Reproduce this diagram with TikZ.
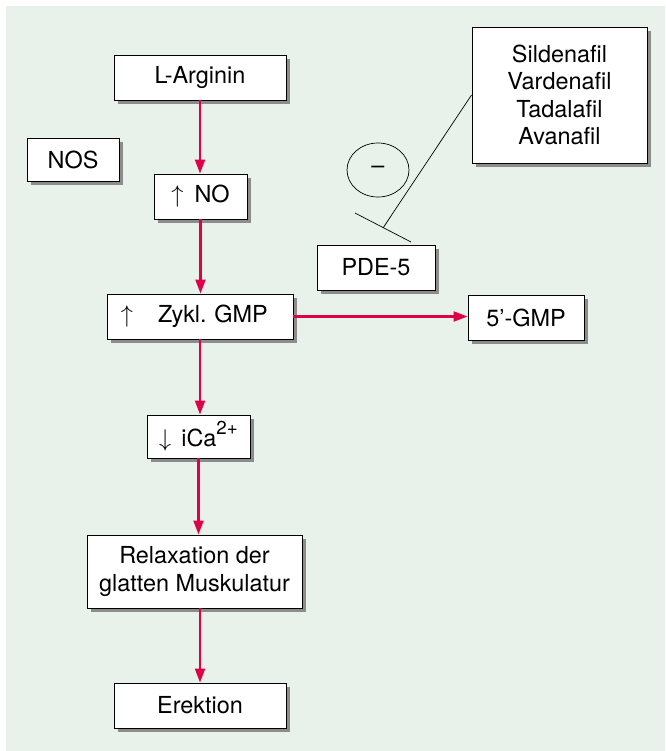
\documentclass[tikz,border=0pt]{standalone}
\usepackage{fontspec}
\setmainfont{TeX Gyre Heros}
\usetikzlibrary{arrows.meta,shadows,shapes.geometric}

\definecolor{panelgreen}{RGB}{233,242,234}
\definecolor{flowred}{RGB}{222,0,72}

\tikzset{
  box/.style={draw, line width=0.8pt, fill=white, minimum height=1.35cm,
    align=center, inner sep=2pt,
    drop shadow={shadow xshift=0.11cm, shadow yshift=-0.11cm, fill=black!45, opacity=1}},
  flow/.style={draw=flowred, line width=1.8pt, -{Triangle[length=0.42cm,width=0.3cm]}},
  block/.style={line width=0.6pt}
}

\begin{document}
\begin{tikzpicture}[x=0.03cm, y=-0.03cm, font=\fontsize{20}{23.5}\selectfont\frenchspacing]
    % panel
    \useasboundingbox (0,0) rectangle (665,751);
    \fill[panelgreen] (6,6) rectangle (665,751);

    % main cascade
    \node[box, minimum width=5.16cm] (arginin) at (200,77.5) {L-Arginin};
    \node[box, minimum width=2.76cm, minimum height=1.29cm] (nos) at (73,159.5) {NOS};
    \node[box, minimum width=2.79cm] (no) at (200.5,196.5) {$\uparrow$\hspace{0.33cm}NO};
    \node[box, text width=4.74cm, inner xsep=0.42cm, align=left] (cgmp) at (200,316.5)
        {$\uparrow$\hspace{0.75cm}Zykl. GMP};
    \node[box, minimum width=3.09cm, minimum height=1.29cm] (ica) at (198.5,436.5)
        {$\downarrow$\hspace{0.3cm}iCa\raisebox{0.5em}{\fontsize{16}{16}\selectfont 2+}};
    \node[box, minimum width=6.45cm, minimum height=2.19cm] (relax) at (194.5,571.5)
        {Relaxation der\\glatten Muskulatur};
    \node[box, minimum width=5.16cm] (erektion) at (200,705.5) {Erektion};

    % degradation branch
    \node[box, minimum width=3.48cm] (gmp5) at (526,317.5) {5’-GMP};
    \node[box, minimum width=3.54cm] (pde) at (376,267.5) {PDE-5};

    % inhibitors
    \node[box, minimum width=5.25cm, minimum height=4.08cm] (drugs) at (559.5,95)
        {Sildenafil\\Vardenafil\\Tadalafil\\Avanafil};
    \node[draw, ellipse, block, minimum width=1.86cm, minimum height=1.62cm] (minus) at (378,170) {–};

    % arrows
    \draw[flow] (arginin.south) -- (arginin.south |- no.north);
    \draw[flow] (no.south) -- (no.south |- cgmp.north);
    \draw[flow] (cgmp.south) -- (cgmp.south |- ica.north);
    \draw[flow] (ica.south) -- (ica.south |- relax.north);
    \draw[flow] (erektion.north |- relax.south) -- (erektion.north);
    \draw[flow] (cgmp.east) -- (cgmp.east -| gmp5.west);

    % inhibition of PDE-5
    \coordinate (blockend) at (383,228);
    \coordinate (barleft) at (355,213);
    \coordinate (barright) at (411,242);
    \draw[block] (drugs.west) -- (blockend);
    \draw[block] (barleft) -- (barright);
\end{tikzpicture}
\end{document}
